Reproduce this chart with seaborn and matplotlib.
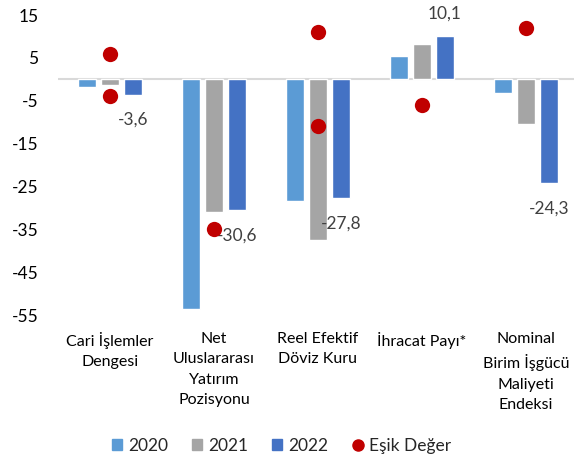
import pandas as pd
import matplotlib.pyplot as plt
import seaborn as sns
from matplotlib.patches import Patch
from matplotlib.lines import Line2D

# Daten
kategoriler = ["Cari İşlemler\nDengesi", "Net\nUluslararası\nYatırım\nPozisyonu",
               "Reel Efektif\nDöviz Kuru", "İhracat Payı*",
               "Nominal\nBirim İşgücü\nMaliyeti\nEndeksi"]
yillar = ["2020", "2021", "2022"]
v2020 = [-1.9, -53.5, -28.3, 5.5, -3.1]
v2021 = [-1.3, -31.0, -37.6, 8.3, -10.5]
v2022 = [-3.6, -30.6, -27.8, 10.1, -24.3]
etiketler_2022 = ["-3,6", "-30,6", "-27,8", "10,1", "-24,3"]

esik_kategori = [kategoriler[0], kategoriler[0], kategoriler[1], kategoriler[2],
                 kategoriler[2], kategoriler[3], kategoriler[4]]
esik_deger = [6, -4, -35, 11, -11, -6, 12]

renkler = {"2020": "#5B9BD5", "2021": "#A5A5A5", "2022": "#4472C4"}
kirmizi = "#C00000"

df = pd.DataFrame({
    "Kategori": kategoriler * 3,
    "Yil": [y for y in yillar for _ in kategoriler],
    "Deger": v2020 + v2021 + v2022,
})
esik_df = pd.DataFrame({"Kategori": esik_kategori, "Deger": esik_deger})

sns.set_style("white")
plt.rcParams["font.family"] = ["Lato", "DejaVu Sans"]
plt.rcParams["axes.unicode_minus"] = False

fig = plt.figure(figsize=(5.74, 4.62), dpi=100)
ax = fig.add_axes([58 / 574, 147 / 462, 520 / 574, 300 / 462])

sns.barplot(data=df, x="Kategori", y="Deger", hue="Yil", order=kategoriler,
            hue_order=yillar, palette=renkler, width=0.663, gap=0.217,
            errorbar=None, legend=False, ax=ax, saturation=1)
sns.stripplot(data=esik_df, x="Kategori", y="Deger", order=kategoriler,
              jitter=False, color=kirmizi, size=11, linewidth=0, ax=ax, zorder=5)

ax.axhline(0, color="#D9D9D9", lw=1.5, zorder=0)

# Datenbeschriftungen (nur 2022)
for i, (v, t) in enumerate(zip(v2022, etiketler_2022)):
    off = 16 if v > 0 else -18
    ax.annotate(t, (i + 0.221, v), xytext=(0, off), textcoords="offset points",
                ha="center", va="center", fontsize=12.5, color="#404040")

ax.set_ylim(-55, 15)
ax.set_xlim(-0.5, 4.5)
ax.set_yticks(range(-55, 16, 10))
ax.set_xlabel("")
ax.set_ylabel("")
for s in ax.spines.values():
    s.set_visible(False)
ax.tick_params(axis="x", length=0, labelsize=11.5, colors="black", pad=12)
ax.tick_params(axis="y", length=0, labelsize=12.5, colors="black", pad=14)
for lab in ax.get_xticklabels():
    lab.set_linespacing(1.6)
    lab.set_va("top")

handles = [Patch(color=renkler[y], label=y) for y in yillar]
handles.append(Line2D([], [], marker="o", color=kirmizi, lw=0, markersize=8, label="Eşik Değer"))
fig.legend(handles=handles, loc="center", bbox_to_anchor=(0.49, 0.035), ncol=4,
           frameon=False, fontsize=12.5, handlelength=0.57, handleheight=0.57,
           handletextpad=0.35, columnspacing=1.4)

fig.savefig("out.png", dpi=100)
